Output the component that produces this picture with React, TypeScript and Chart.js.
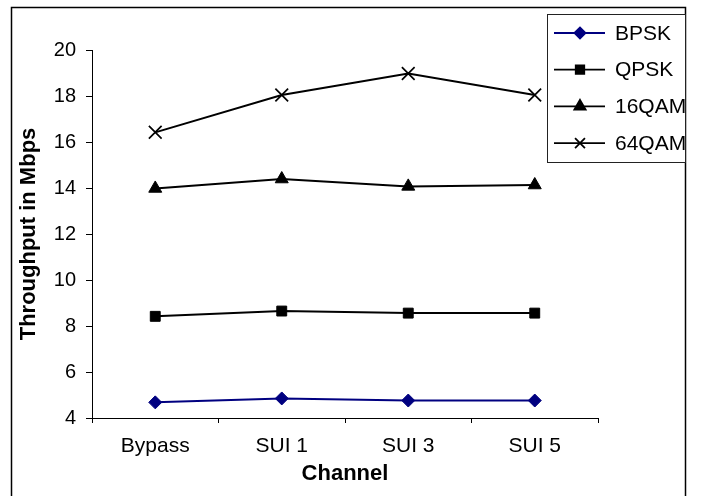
import React, { useEffect, useRef } from "react";
import { Chart, registerables } from "chart.js";
import { drawPoint } from "chart.js/helpers";

Chart.register(...registerables);

const categories = ["Bypass", "SUI 1", "SUI 3", "SUI 5"];
const bpsk = [4.68, 4.85, 4.76, 4.76];
const qpsk = [8.42, 8.65, 8.56, 8.56];
const qam16 = [13.98, 14.39, 14.07, 14.13];
const qam64 = [16.42, 18.04, 18.98, 18.04];
const yMin = 4;
const yMax = 20;
const yStep = 2;

const FONT = '"Liberation Sans", Arial, sans-serif';

const legendMarkerRadius: Record<string, number> = {
  rectRot: 5.5,
  rect: 6,
  triangle: 6.5,
  crossRot: 7,
};

const framePlugin = {
  id: "frame",
  afterDraw(chart: any) {
    const ctx = chart.ctx as CanvasRenderingContext2D;
    ctx.save();
    // outer border
    ctx.strokeStyle = "#000";
    ctx.lineWidth = 1.5;
    ctx.strokeRect(11.5, 7.5, 674, 600);
    // legend box
    ctx.fillStyle = "#fff";
    ctx.fillRect(547, 14, 139, 149);
    ctx.lineWidth = 1;
    ctx.strokeStyle = "#222";
    ctx.strokeRect(547.5, 14.5, 138, 148);
    chart.data.datasets.forEach((ds: any, i: number) => {
      const y = 33 + i * 36.7;
      ctx.strokeStyle = ds.borderColor;
      ctx.lineWidth = 1.8;
      ctx.beginPath();
      ctx.moveTo(554, y);
      ctx.lineTo(605, y);
      ctx.stroke();
      ctx.fillStyle = ds.borderColor;
      drawPoint(
        ctx,
        {
          pointStyle: ds.pointStyle,
          radius: legendMarkerRadius[ds.pointStyle] || 5,
          rotation: 0,
          borderWidth: ds.pointStyle === "crossRot" ? 1.6 : 1,
        } as any,
        580,
        y
      );
      ctx.fillStyle = "#000";
      ctx.font = `21px ${FONT}`;
      ctx.textAlign = "left";
      ctx.textBaseline = "middle";
      ctx.fillText(ds.label, 615, y + 1);
    });
    ctx.restore();
  },
};

export default function App() {
  const ref = useRef<HTMLCanvasElement>(null);
  useEffect(() => {
    const canvas = ref.current!;
    const mk = (label: string, data: number[], color: string, style: string, radius: number) => ({
      label,
      data,
      borderColor: color,
      backgroundColor: color,
      borderWidth: 2,
      pointStyle: style,
      pointRadius: radius,
      pointBackgroundColor: color,
      pointBorderColor: color,
      pointBorderWidth: style === "crossRot" ? 1.7 : 1,
      tension: 0,
      fill: false,
    });
    const chart = new Chart(canvas, {
      type: "line",
      data: {
        labels: categories,
        datasets: [
          mk("BPSK", bpsk, "#000080", "rectRot", 6.5),
          mk("QPSK", qpsk, "#000000", "rect", 7),
          mk("16QAM", qam16, "#000000", "triangle", 7.5),
          mk("64QAM", qam64, "#000000", "crossRot", 9),
        ] as any,
      },
      options: {
        responsive: false,
        animation: false,
        devicePixelRatio: 1,
        layout: { padding: { left: 0, top: 50, right: 103, bottom: 0 } },
        plugins: {
          legend: { display: false },
          tooltip: { enabled: false },
        },
        scales: {
          x: {
            type: "category",
            offset: true,
            grid: {
              offset: true,
              drawOnChartArea: false,
              drawTicks: true,
              tickLength: 5,
              color: "#000",
            },
            border: { display: true, color: "#000", width: 1 },
            ticks: {
              color: "#000",
              font: { family: FONT, size: 21 },
              padding: 11,
              maxRotation: 0,
              autoSkip: false,
            },
            title: {
              display: true,
              text: "Channel",
              color: "#000",
              font: { family: FONT, size: 22, weight: "bold" },
              padding: { top: 0, bottom: 9 },
            },
            afterFit: (s: any) => {
              s.height = 78;
            },
          },
          y: {
            min: yMin,
            max: yMax,
            ticks: {
              stepSize: yStep,
              color: "#000",
              font: { family: FONT, size: 20 },
              padding: 10,
            },
            grid: {
              drawOnChartArea: false,
              drawTicks: true,
              tickLength: 6,
              color: "#000",
            },
            border: { display: true, color: "#000", width: 1 },
            title: {
              display: true,
              text: "Throughput in Mbps",
              color: "#000",
              font: { family: FONT, size: 22, weight: "bold" },
              padding: { top: 16, bottom: 0 },
            },
            afterFit: (s: any) => {
              s.width = 92;
            },
          },
        },
      } as any,
      plugins: [framePlugin],
    });
    return () => chart.destroy();
  }, []);
  return (
    <div
      style={{
        position: "absolute",
        left: 0,
        top: 0,
        width: 701,
        height: 496,
        background: "#fff",
      }}
    >
      <canvas ref={ref} width={701} height={496} style={{ display: "block" }} />
    </div>
  );
}
